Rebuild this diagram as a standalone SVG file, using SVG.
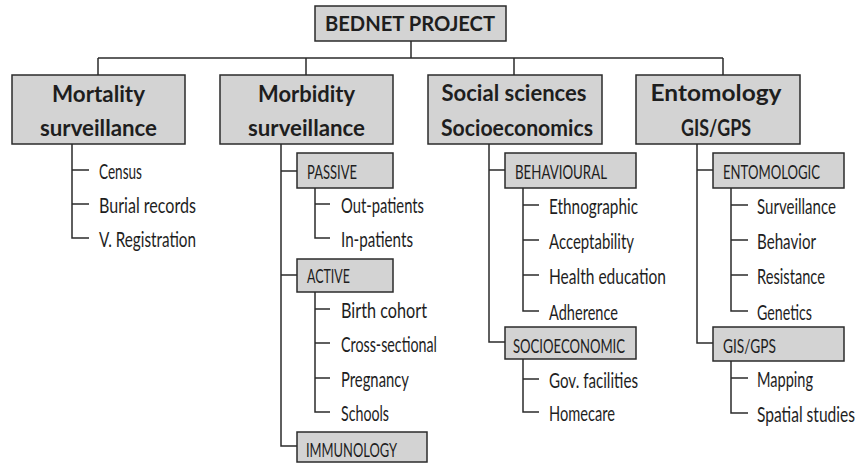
<svg xmlns="http://www.w3.org/2000/svg" width="860" height="465" viewBox="0 0 860 465">
  <style>
    .box { fill: #d3d3d3; stroke: #2b2b2b; stroke-width: 1.5; }
    .wire { fill: none; stroke: #2b2b2b; stroke-width: 1.5; }
    text { font-family: "Lato", "Open Sans", "DejaVu Sans", sans-serif; fill: #1e1e1e; }
    .root { font-size: 20px; font-weight: 700; }
    .head { font-size: 23px; font-weight: 700; text-anchor: middle; }
    .sub { font-size: 20px; font-weight: 400; }
    .leaf { font-size: 20.5px; font-weight: 400; }
  </style>
  <rect width="860" height="465" fill="#ffffff"/>

  <!-- connectors -->
  <g id="connectors" class="wire">
    <path d="M411,41 V58 M98,58 H723 M98,58 V75 M306,58 V75 M514,58 V75 M723,58 V75"/>
    <!-- mortality -->
    <path d="M72,144 V238 H89 M72,170 H89 M72,204 H89"/>
    <!-- morbidity -->
    <path d="M281,144 V446 H297 M281,171 H297 M281,275 H297"/>
    <path d="M315,188 V238 H330 M315,204 H330"/>
    <path d="M315,292 V412 H330 M315,309 H330 M315,343 H330 M315,378 H330"/>
    <!-- social sciences -->
    <path d="M489,144 V342 H505 M489,170 H505"/>
    <path d="M523,188 V311 H539 M523,205 H539 M523,240 H539 M523,275 H539"/>
    <path d="M523,359 V412 H539 M523,379 H539"/>
    <!-- entomology -->
    <path d="M697,144 V343 H713 M697,170 H713"/>
    <path d="M731,188 V311 H748 M731,205 H748 M731,240 H748 M731,275 H748"/>
    <path d="M731,361 V413 H748 M731,378 H748"/>
  </g>

  <g id="bednet">
    <rect class="box" x="315" y="6" width="191" height="35"/>
    <text class="root" x="410" y="31" text-anchor="middle" textLength="170" lengthAdjust="spacingAndGlyphs">BEDNET PROJECT</text>
  </g>

  <g id="mortality">
    <rect class="box" x="12" y="75" width="173" height="69"/>
    <text class="head" x="98.5" y="102" textLength="93" lengthAdjust="spacingAndGlyphs">Mortality</text>
    <text class="head" x="98.5" y="136" textLength="117" lengthAdjust="spacingAndGlyphs">surveillance</text>
  </g>
  <g id="morbidity">
    <rect class="box" x="220" y="75" width="173" height="69"/>
    <text class="head" x="306.5" y="102" textLength="97" lengthAdjust="spacingAndGlyphs">Morbidity</text>
    <text class="head" x="306.5" y="136" textLength="117" lengthAdjust="spacingAndGlyphs">surveillance</text>
  </g>
  <g id="social">
    <rect class="box" x="428" y="75" width="174" height="69"/>
    <text class="head" x="514" y="101" textLength="145" lengthAdjust="spacingAndGlyphs">Social sciences</text>
    <text class="head" x="517" y="136" textLength="152" lengthAdjust="spacingAndGlyphs">Socioeconomics</text>
  </g>
  <g id="entomology">
    <rect class="box" x="636" y="75" width="164" height="69"/>
    <text class="head" x="716" y="101" textLength="131" lengthAdjust="spacingAndGlyphs">Entomology</text>
    <text class="head" x="716" y="136" textLength="70" lengthAdjust="spacingAndGlyphs">GIS/GPS</text>
  </g>

  <!-- labels below are set in a condensed cut: scaled to 72% width -->

  <!-- mortality leaves -->
  <g id="census"><text class="leaf" transform="translate(99,179) scale(0.72,1)" textLength="59.7" lengthAdjust="spacingAndGlyphs">Census</text></g>
  <g id="burial"><text class="leaf" transform="translate(99,213) scale(0.72,1)" textLength="134.7" lengthAdjust="spacingAndGlyphs">Burial records</text></g>
  <g id="vreg"><text class="leaf" transform="translate(99,247) scale(0.72,1)" textLength="134.7" lengthAdjust="spacingAndGlyphs">V. Registration</text></g>

  <!-- morbidity branches -->
  <g id="passive">
    <rect class="box" x="297" y="153" width="96" height="35"/>
    <text class="sub" transform="translate(307,179) scale(0.72,1)" textLength="69.4" lengthAdjust="spacingAndGlyphs">PASSIVE</text>
  </g>
  <g id="outpatients"><text class="leaf" transform="translate(341,213) scale(0.72,1)" textLength="115.3" lengthAdjust="spacingAndGlyphs">Out-patients</text></g>
  <g id="inpatients"><text class="leaf" transform="translate(341,247) scale(0.72,1)" textLength="100" lengthAdjust="spacingAndGlyphs">In-patients</text></g>
  <g id="active">
    <rect class="box" x="297" y="259" width="96" height="33"/>
    <text class="sub" transform="translate(307,283) scale(0.72,1)" textLength="59.7" lengthAdjust="spacingAndGlyphs">ACTIVE</text>
  </g>
  <g id="birth"><text class="leaf" transform="translate(341,318) scale(0.72,1)" textLength="119.4" lengthAdjust="spacingAndGlyphs">Birth cohort</text></g>
  <g id="cross"><text class="leaf" transform="translate(341,352) scale(0.72,1)" textLength="133.3" lengthAdjust="spacingAndGlyphs">Cross-sectional</text></g>
  <g id="pregnancy"><text class="leaf" transform="translate(341,387) scale(0.72,1)" textLength="94.4" lengthAdjust="spacingAndGlyphs">Pregnancy</text></g>
  <g id="schools"><text class="leaf" transform="translate(341,421) scale(0.72,1)" textLength="66.7" lengthAdjust="spacingAndGlyphs">Schools</text></g>
  <g id="immunology">
    <rect class="box" x="297" y="432" width="130" height="30"/>
    <text class="sub" transform="translate(306,457) scale(0.72,1)" textLength="126.4" lengthAdjust="spacingAndGlyphs">IMMUNOLOGY</text>
  </g>

  <!-- social science branches -->
  <g id="behavioural">
    <rect class="box" x="505" y="153" width="131" height="35"/>
    <text class="sub" transform="translate(515,179) scale(0.72,1)" textLength="127.8" lengthAdjust="spacingAndGlyphs">BEHAVIOURAL</text>
  </g>
  <g id="ethnographic"><text class="leaf" transform="translate(549,214) scale(0.72,1)" textLength="123.6" lengthAdjust="spacingAndGlyphs">Ethnographic</text></g>
  <g id="acceptability"><text class="leaf" transform="translate(549,249) scale(0.72,1)" textLength="118.1" lengthAdjust="spacingAndGlyphs">Acceptability</text></g>
  <g id="healthed"><text class="leaf" transform="translate(549,284) scale(0.72,1)" textLength="162.5" lengthAdjust="spacingAndGlyphs">Health education</text></g>
  <g id="adherence"><text class="leaf" transform="translate(549,320) scale(0.72,1)" textLength="95.8" lengthAdjust="spacingAndGlyphs">Adherence</text></g>
  <g id="socioeconomic">
    <rect class="box" x="505" y="327" width="131" height="32"/>
    <text class="sub" transform="translate(513,353) scale(0.72,1)" textLength="155.6" lengthAdjust="spacingAndGlyphs">SOCIOECONOMIC</text>
  </g>
  <g id="govfac"><text class="leaf" transform="translate(549,388) scale(0.72,1)" textLength="123.6" lengthAdjust="spacingAndGlyphs">Gov. facilities</text></g>
  <g id="homecare"><text class="leaf" transform="translate(549,421) scale(0.72,1)" textLength="91.7" lengthAdjust="spacingAndGlyphs">Homecare</text></g>

  <!-- entomology branches -->
  <g id="entomologic">
    <rect class="box" x="713" y="153" width="131" height="35"/>
    <text class="sub" transform="translate(723,179) scale(0.72,1)" textLength="134.7" lengthAdjust="spacingAndGlyphs">ENTOMOLOGIC</text>
  </g>
  <g id="surveillance"><text class="leaf" transform="translate(757,214) scale(0.72,1)" textLength="109.7" lengthAdjust="spacingAndGlyphs">Surveillance</text></g>
  <g id="behavior"><text class="leaf" transform="translate(757,249) scale(0.72,1)" textLength="81.9" lengthAdjust="spacingAndGlyphs">Behavior</text></g>
  <g id="resistance"><text class="leaf" transform="translate(757,284) scale(0.72,1)" textLength="94.4" lengthAdjust="spacingAndGlyphs">Resistance</text></g>
  <g id="genetics"><text class="leaf" transform="translate(757,320) scale(0.72,1)" textLength="76.4" lengthAdjust="spacingAndGlyphs">Genetics</text></g>
  <g id="gisgps">
    <rect class="box" x="713" y="327" width="131" height="34"/>
    <text class="sub" transform="translate(723,353) scale(0.72,1)" textLength="73.6" lengthAdjust="spacingAndGlyphs">GIS/GPS</text>
  </g>
  <g id="mapping"><text class="leaf" transform="translate(757,387) scale(0.72,1)" textLength="77.8" lengthAdjust="spacingAndGlyphs">Mapping</text></g>
  <g id="spatial"><text class="leaf" transform="translate(757,422) scale(0.72,1)" textLength="136.1" lengthAdjust="spacingAndGlyphs">Spatial studies</text></g>
</svg>
